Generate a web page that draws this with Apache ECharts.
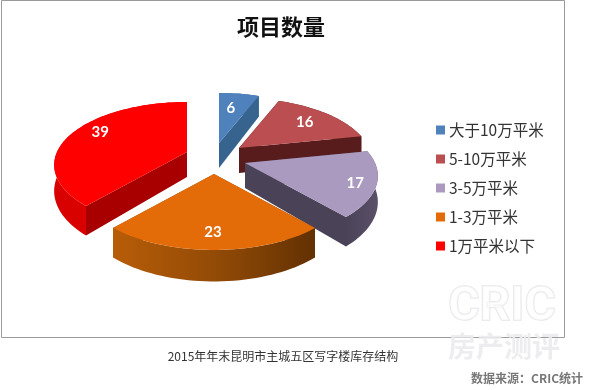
<!DOCTYPE html>
<html><head><meta charset="utf-8">
<style>html,body{margin:0;padding:0;background:#fff}#c{width:590px;height:390px}</style>
<script src="https://cdn.jsdelivr.net/npm/echarts@6/dist/echarts.min.js"></script>
</head><body><div id="c"></div>
<script>
const categories = ['大于10万平米','5-10万平米','3-5万平米','1-3万平米','1万平米以下'];
const values = [6,16,17,23,39];
const titleText = '项目数量';
const captionText = '2015年年末昆明市主城五区写字楼库存结构';
const sourceText = '数据来源：CRIC统计';

const CJK = '"Noto Sans CJK SC","Noto Sans",sans-serif';
const topColors = ['#4f81bd','#bb4e50','#ab9ac0','#e36c09','#ff0000'];
const radialColors = ['#36648f','#581c1c','#4a4358','#8f4a08','#a80000'];
const wallStops = [
  ['#36648f','#36648f'],
  ['#581c1c','#581c1c'],
  ['#4a4358','#5a5068'],
  ['#b85d08','#934b06','#633103'],
  ['#d80000','#e00000']
];
// drawing model: oblique perspective view of a disc
const R = 130, Q = 60.3, K = 0.206, DEPTH = 25;
const apexes = [[219,143],[239,148],[245,163],[214,174],[187,152]];
const labelAt = [.76,.76,.86,.75,.76];
const labelShift = [[-4,4],[-3,1],[-2,3],[-1,5],[1,-5]];
const zOrder = [1,2,4,5,3];

const total = values.reduce((a,b)=>a+b,0);
const starts = values.map((v,i)=>values.slice(0,i).reduce((a,b)=>a+b,0));

function proj(apex, thetaDeg, f, down){
  const t = thetaDeg*Math.PI/180, X = Math.sin(t)*f, Y = Math.cos(t)*f;
  const s = 1/(1+K*Y);
  return [apex[0]+R*X*s, apex[1]-Q*Y*s+(down?DEPTH*s:0)];
}
function renderer(i){
  return function(params, api){
    const v = api.value(0);
    const a0 = starts[i]/total*360, a1 = a0+v/total*360;
    const ap = apexes[i];
    const steps = Math.max(6, Math.round((a1-a0)/2));
    const rimTop = [], rimBot = [];
    for(let k=0;k<=steps;k++){
      const a = a0+(a1-a0)*k/steps;
      rimTop.push(proj(ap,a,1,false));
      rimBot.push(proj(ap,a,1,true));
    }
    const apexB = proj(ap,0,0,true);
    const poly = (pts,fill)=>({type:'polygon',shape:{points:pts},style:{fill:fill,stroke:null}});
    const stops = wallStops[i].map((c,n,arr)=>({offset:arr.length>1?n/(arr.length-1):0,color:c}));
    const wallFill = new echarts.graphic.LinearGradient(0,0,1,0,stops);
    const kids = [
      poly([ap,rimTop[0],rimBot[0],apexB],radialColors[i]),
      poly([ap,rimTop[steps],rimBot[steps],apexB],radialColors[i]),
      poly(rimTop.concat(rimBot.slice().reverse()),wallFill),
      poly([ap].concat(rimTop),topColors[i])
    ];
    const mid = (a0+a1)/2, lp = proj(ap,mid,labelAt[i],false);
    kids.push({type:'text',z2:10,style:{
      text:String(v),x:lp[0]+labelShift[i][0],y:lp[1]+labelShift[i][1],
      fill:'#fff',font:'bold 15px Lato,"Open Sans",'+CJK,textAlign:'center',textVerticalAlign:'middle'}});
    return {type:'group',children:kids};
  };
}

const chart = echarts.init(document.getElementById('c'),null,{renderer:'canvas'});
chart.setOption({
  animation:false,
  backgroundColor:'#fff',
  color:topColors,
  legend:{
    orient:'vertical',left:431,top:116,itemWidth:9,itemHeight:9,itemGap:11,icon:'rect',
    selectedMode:false,
    textStyle:{color:'#333',fontSize:15.5,fontFamily:CJK,lineHeight:18,padding:[0,0,0,-1]},
    data:categories
  },
  series:categories.map((name,i)=>({
    type:'custom',name:name,coordinateSystem:'none',z:zOrder[i],
    renderItem:renderer(i),data:[[values[i]]],silent:true
  })),
  graphic:[
    {type:'rect',z:-1,shape:{x:1.5,y:0.5,width:563,height:337},style:{fill:'#fff',stroke:'#9a9a9a',lineWidth:1}},
    {type:'text',z:20,style:{text:titleText,x:281,y:27,fill:'#111',font:'bold 22px '+CJK,textAlign:'center',textVerticalAlign:'middle'}},
    {type:'text',z:20,style:{text:captionText,x:283,y:356,fill:'#333',font:'12px '+CJK,textAlign:'center',textVerticalAlign:'middle'}},
    {type:'text',z:20,style:{text:sourceText,x:583,y:378,fill:'#777',font:'bold 12px '+CJK,textAlign:'right',textVerticalAlign:'middle'}},
    {type:'text',z:21,style:{text:'CRIC',x:502,y:308,fill:'rgba(255,255,255,0.6)',stroke:'#e6e6ea',lineWidth:1.5,font:'bold 48px Roboto,sans-serif',textAlign:'center',textVerticalAlign:'middle'}},
    {type:'text',z:21,style:{text:'房产测评',x:504,y:346,fill:'rgba(235,235,238,0.9)',font:'bold 28px '+CJK,textAlign:'center',textVerticalAlign:'middle'}}
  ]
});
</script></body></html>
